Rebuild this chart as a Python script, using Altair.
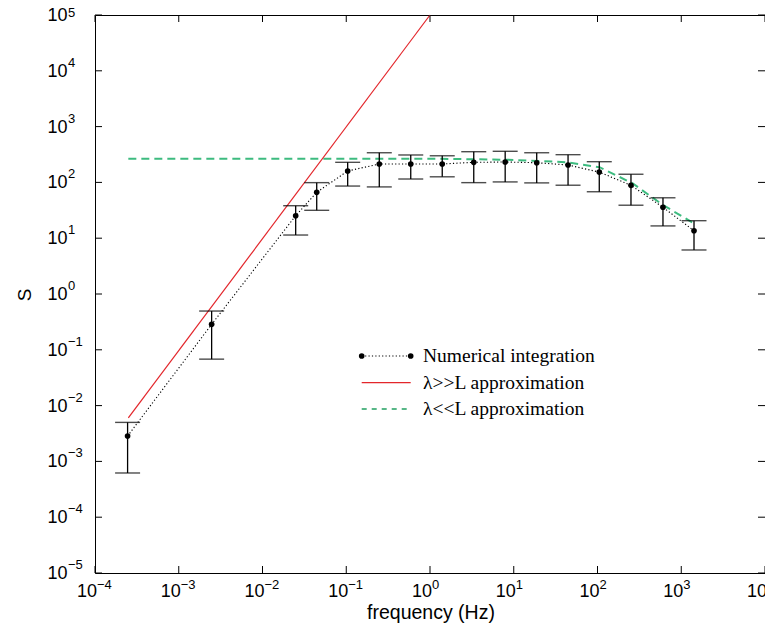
import altair as alt
import pandas as pd

# ---- data ----
freq = [2.45e-4, 2.47e-3, 0.0249, 0.0444, 0.104, 0.248, 0.589, 1.40,
        3.33, 7.9, 18.8, 44.5, 105, 251, 605, 1420]
S_num = [2.85e-3, 0.286, 25.3, 66.4, 160, 214, 214, 214,
         229, 232, 225, 205, 153, 88.7, 35.8, 13.6]
S_hi = [5.0e-3, 0.495, 38.2, 99, 229, 340, 310, 300,
        355, 361, 340, 314, 235, 140, 53, 20.6]
S_lo = [6.2e-4, 0.068, 11.4, 31.6, 86, 83, 115, 126,
        99, 102, 98, 89, 68, 39, 16.6, 6.15]

red_f = [2.5e-4, 1.0]
red_S = [6.0e-3, 1.0e5]

green_f = [2.5e-4, 1.0, 8.3, 20, 43, 107, 263, 603, 1350]
green_S = [266, 266, 255, 242, 229, 186, 96, 39.4, 19.3]

x_exp = [-4, -3, -2, -1, 0, 1, 2, 3, 4]
y_exp = [-5, -4, -3, -2, -1, 0, 1, 2, 3, 4]
y_top_exp = [5]

legend_labels = ["Numerical integration", "\u03bb>>L approximation", "\u03bb<<L approximation"]

W, H = 670, 558
SANS = "Liberation Sans"
SERIF = "Liberation Serif"
RED = "#e3262b"
GREEN = "#3dbb7f"

def sup(n):
    table = str.maketrans("-0123456789", "\u2212" + "0123456789")
    return str(n).translate(table)

num = pd.DataFrame({"f": freq, "S": S_num, "hi": S_hi, "lo": S_lo})
red = pd.DataFrame({"f": red_f, "S": red_S})
green = pd.DataFrame({"f": green_f, "S": green_S})
xt = pd.DataFrame({"f": [10.0 ** k for k in x_exp], "base": ["10"] * len(x_exp),
                   "e": [sup(k) for k in x_exp]})
yt = pd.DataFrame({"S": [10.0 ** k for k in y_exp], "base": ["10"] * len(y_exp),
                   "e": [sup(k) for k in y_exp]})
yt_top = pd.DataFrame({"S": [10.0 ** k for k in y_top_exp], "base": ["10"] * len(y_top_exp),
                       "e": [sup(k) for k in y_top_exp]})
yt_all = pd.concat([yt, yt_top], ignore_index=True)

xs = alt.Scale(type="log", domain=[1e-4, 1e4], nice=False)
ys = alt.Scale(type="log", domain=[1e-5, 1e5], nice=False)
X = lambda f="f": alt.X(f"{f}:Q", scale=xs, axis=None)
Y = lambda f="S": alt.Y(f"{f}:Q", scale=ys, axis=None)

green_line = alt.Chart(green).mark_line(color=GREEN, strokeWidth=2, strokeDash=[8, 5]).encode(
    x=X(), y=Y(), order="f:Q")
red_line = alt.Chart(red).mark_line(color=RED, strokeWidth=1.2).encode(x=X(), y=Y())
err = alt.Chart(num).mark_rule(color="black", strokeWidth=1.3).encode(x=X(), y=Y("lo"), y2="hi:Q")
cap_hi = alt.Chart(num).mark_tick(orient="horizontal", size=25, thickness=1.4, color="black").encode(
    x=X(), y=Y("hi"))
cap_lo = alt.Chart(num).mark_tick(orient="horizontal", size=25, thickness=1.4, color="black").encode(
    x=X(), y=Y("lo"))
dotted = alt.Chart(num).mark_line(color="black", strokeWidth=1.1, strokeDash=[1.2, 2.2]).encode(
    x=X(), y=Y(), order="f:Q")
dots = alt.Chart(num).mark_circle(color="black", size=32, opacity=1).encode(x=X(), y=Y())

# inward ticks on all four sides
tb = alt.Chart(xt).mark_rule(color="black", strokeWidth=1).encode(x=X(), y=alt.value(H), y2=alt.value(H - 7))
tt = alt.Chart(xt).mark_rule(color="black", strokeWidth=1).encode(x=X(), y=alt.value(0), y2=alt.value(7))
tl = alt.Chart(yt_all).mark_rule(color="black", strokeWidth=1).encode(y=Y(), x=alt.value(0), x2=alt.value(7))
tr = alt.Chart(yt_all).mark_rule(color="black", strokeWidth=1).encode(y=Y(), x=alt.value(W), x2=alt.value(W - 7))

# tick labels (10 with superscript exponent)
xl_base = alt.Chart(xt).mark_text(font=SANS, fontSize=18, align="right", baseline="alphabetic", dx=2).encode(
    x=X(), y=alt.value(H + 24), text="base:N")
xl_exp = alt.Chart(xt).mark_text(font=SANS, fontSize=13, align="left", baseline="alphabetic", dx=2).encode(
    x=X(), y=alt.value(H + 16), text="e:N")
yl_base = alt.Chart(yt_all).mark_text(font=SANS, fontSize=18, align="right", baseline="middle", dy=1).encode(
    y=Y(), x=alt.value(-27.5), text="base:N")
yl_exp = alt.Chart(yt).mark_text(font=SANS, fontSize=13, align="left", baseline="middle", dy=-8).encode(
    y=Y(), x=alt.value(-27), text="e:N")
yl_exp_top = alt.Chart(yt_top).mark_text(font=SANS, fontSize=13, align="left", baseline="middle", dy=-2).encode(
    y=Y(), x=alt.value(-27), text="e:N")

ytitle = alt.Chart(pd.DataFrame({"t": ["S"]})).mark_text(font=SANS, fontSize=19, angle=270,
                                                         baseline="middle", align="center").encode(
    x=alt.value(-70), y=alt.value(280), text="t:N")
xtitle = alt.Chart(pd.DataFrame({"t": ["frequency (Hz)"]})).mark_text(font=SANS, fontSize=19.5,
                                                                      baseline="middle", align="center").encode(
    x=alt.value(336), y=alt.value(598), text="t:N")

# legend
LX0, LX1, LT = 266.7, 315.7, 328
rows = [341, 367.7, 394]
leg_df = pd.DataFrame({"label": legend_labels, "row": rows})
leg_text = alt.Chart(leg_df).mark_text(font=SERIF, fontSize=19.5, align="left", baseline="middle").encode(
    x=alt.value(LT), y=alt.Y("row:Q", scale=None, axis=None), text="label:N")
l1 = alt.Chart(leg_df.iloc[[0]]).mark_rule(color="black", strokeWidth=1.1, strokeDash=[1.2, 2.2]).encode(
    x=alt.value(LX0), x2=alt.value(LX1), y=alt.value(rows[0]))
l1a = alt.Chart(leg_df.iloc[[0]]).mark_circle(color="black", size=32, opacity=1).encode(
    x=alt.value(LX0), y=alt.value(rows[0]))
l1b = alt.Chart(leg_df.iloc[[0]]).mark_circle(color="black", size=32, opacity=1).encode(
    x=alt.value(LX1), y=alt.value(rows[0]))
l2 = alt.Chart(leg_df.iloc[[1]]).mark_rule(color=RED, strokeWidth=1.2).encode(
    x=alt.value(LX0), x2=alt.value(LX1), y=alt.value(rows[1]))
l3 = alt.Chart(leg_df.iloc[[2]]).mark_rule(color="#22a060", strokeWidth=1.3, strokeDash=[5, 5]).encode(
    x=alt.value(LX0), x2=alt.value(LX1), y=alt.value(rows[2]))

chart = alt.layer(
    green_line, red_line, err, cap_hi, cap_lo, dotted, dots,
    tb, tt, tl, tr, xl_base, xl_exp, yl_base, yl_exp, yl_exp_top, ytitle, xtitle,
    l1, l1a, l1b, l2, l3, leg_text,
).properties(
    width=W, height=H,
    padding={"left": 87, "top": 7, "right": 0, "bottom": 50},
    autosize=alt.AutoSizeParams(type="none"),
).configure_view(stroke="black", strokeWidth=1)

chart.save("out.html", embed_options={"renderer": "svg", "actions": False})
